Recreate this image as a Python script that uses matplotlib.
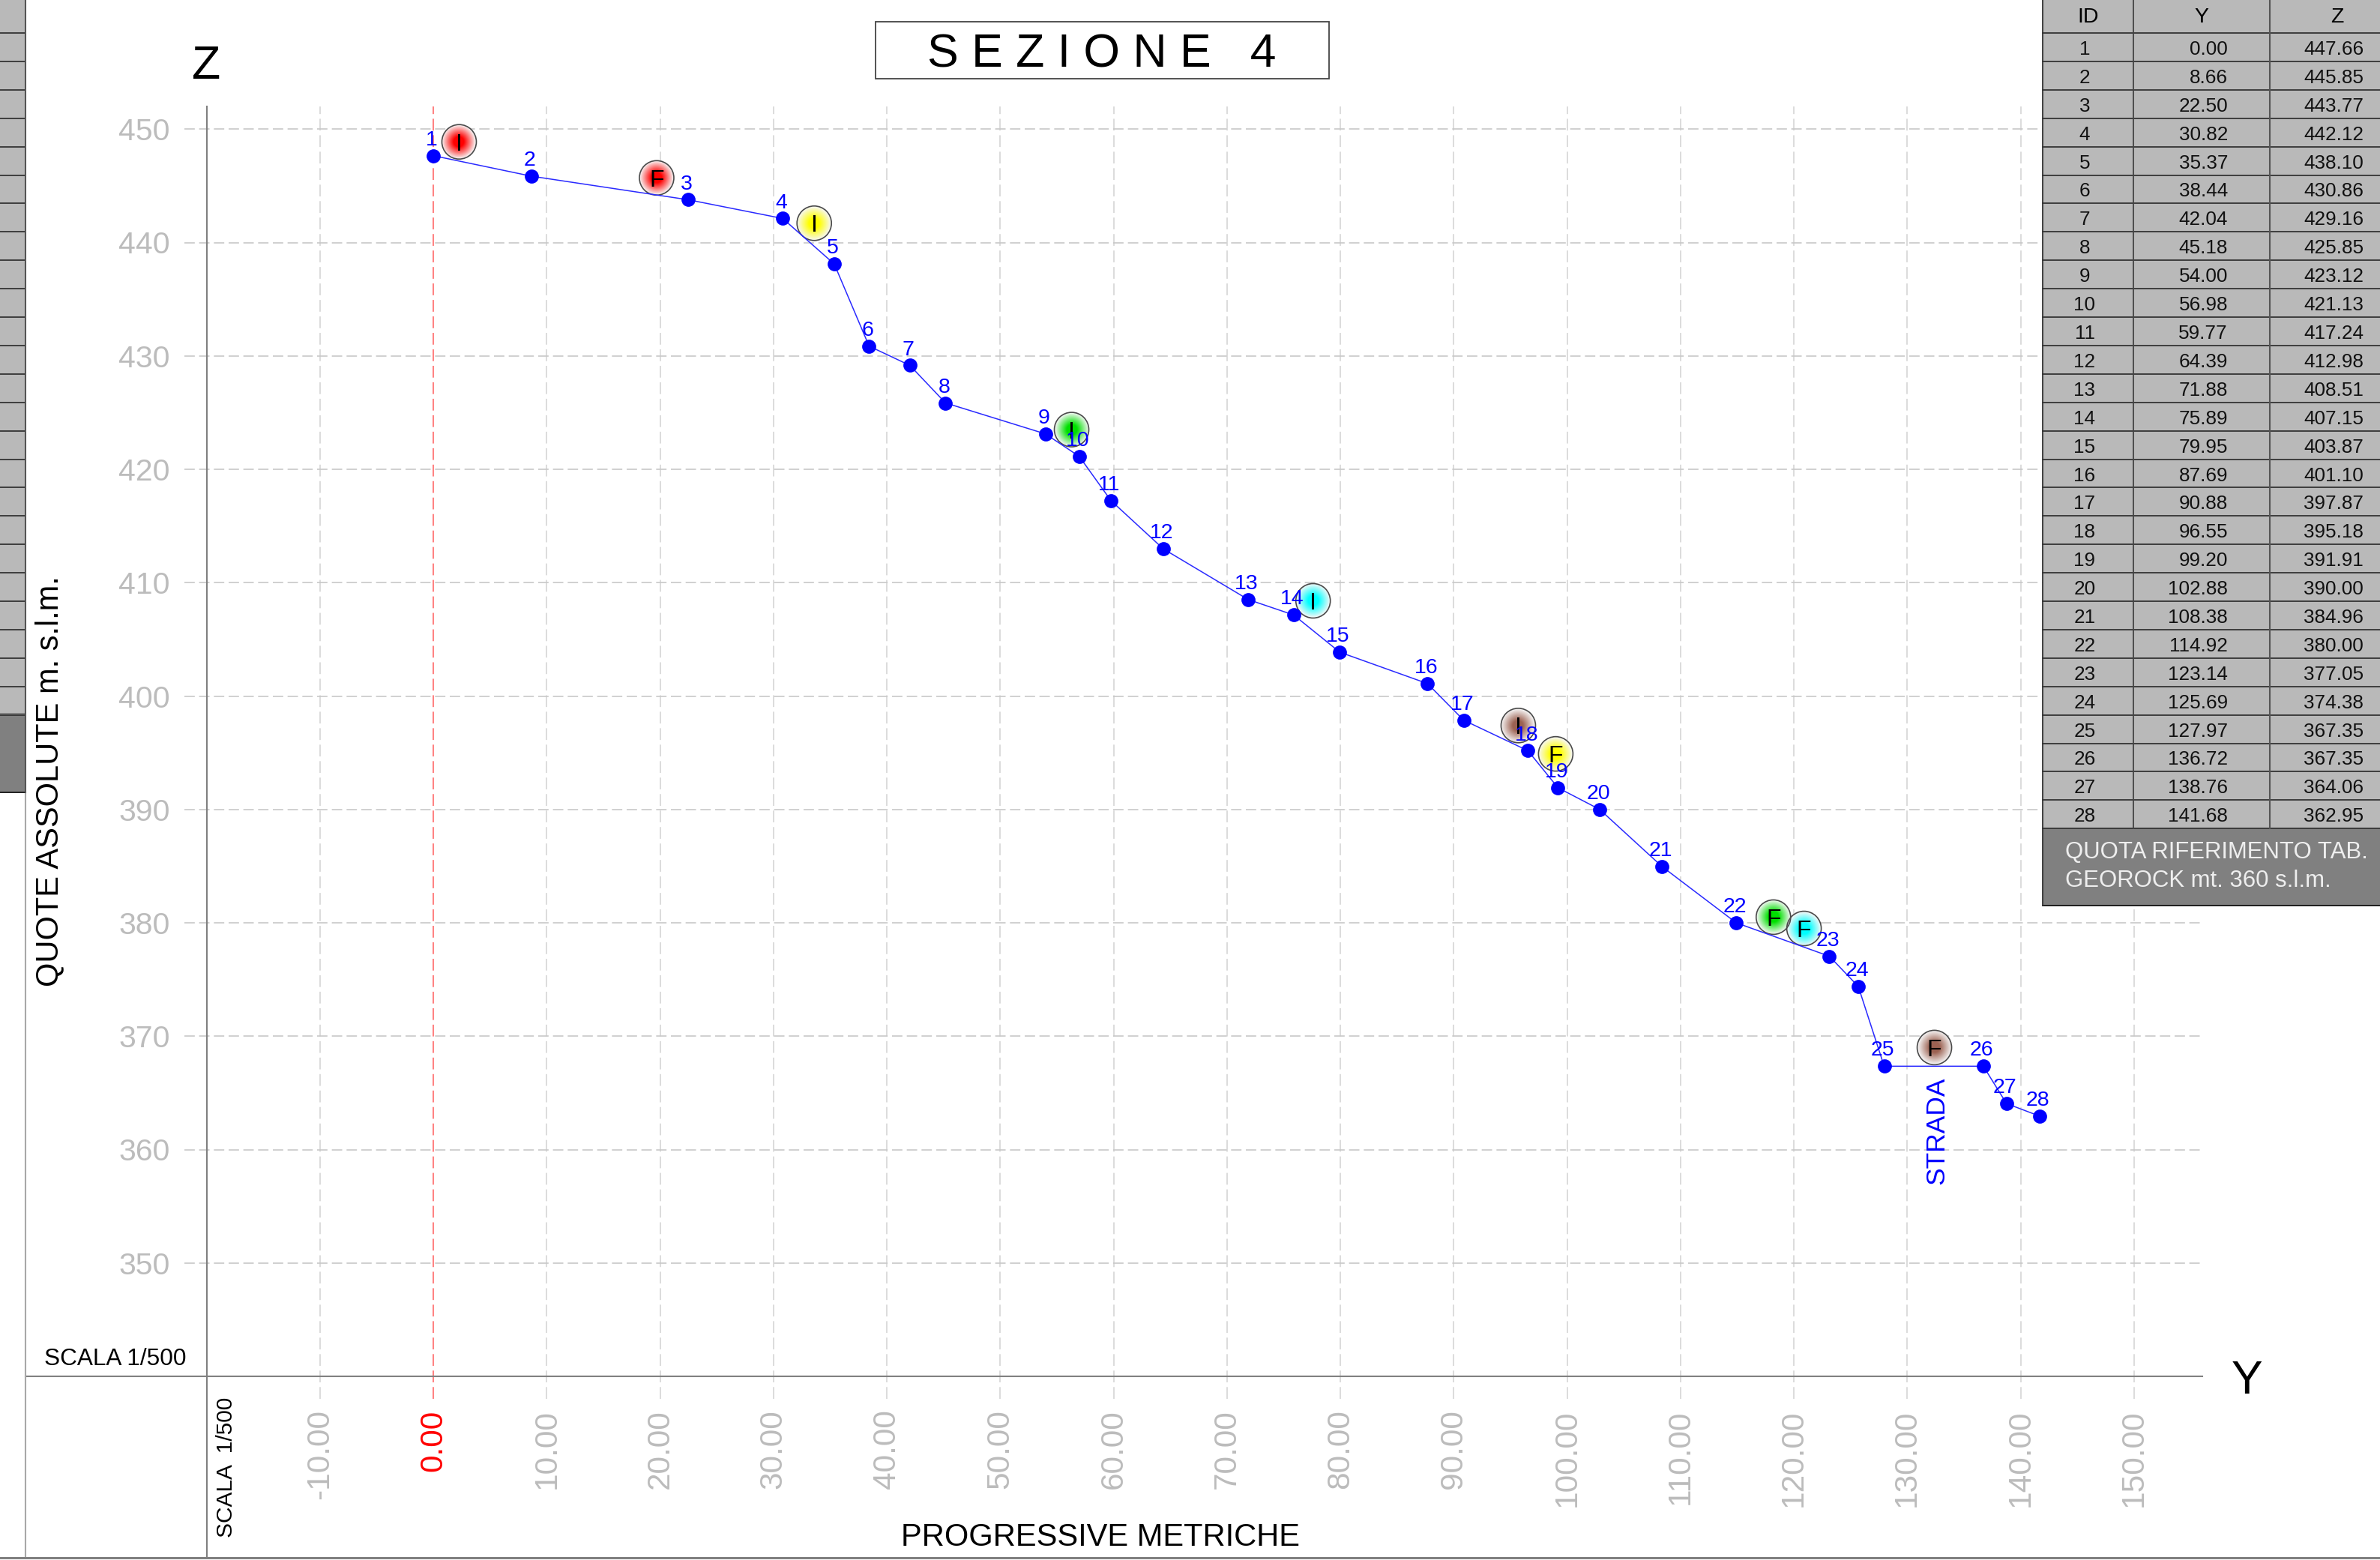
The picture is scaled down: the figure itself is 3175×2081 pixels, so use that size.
import numpy as np
import matplotlib
matplotlib.use('Agg')
import matplotlib.pyplot as plt
from matplotlib.patches import Circle, Rectangle
from matplotlib.colors import to_rgb

plt.rcParams['font.family'] = ['Liberation Sans', 'DejaVu Sans']

# survey points
ids = list(range(1, 29))
y_vals = [0.00, 8.66, 22.50, 30.82, 35.37, 38.44, 42.04, 45.18, 54.00, 56.98,
          59.77, 64.39, 71.88, 75.89, 79.95, 87.69, 90.88, 96.55, 99.20, 102.88,
          108.38, 114.92, 123.14, 125.69, 127.97, 136.72, 138.76, 141.68]
z_vals = [447.66, 445.85, 443.77, 442.12, 438.10, 430.86, 429.16, 425.85, 423.12, 421.13,
          417.24, 412.98, 408.51, 407.15, 403.87, 401.10, 397.87, 395.18, 391.91, 390.00,
          384.96, 380.00, 377.05, 374.38, 367.35, 367.35, 364.06, 362.95]

# I / F geophone markers
mark_y = [2.28, 19.7, 33.6, 56.3, 77.6, 95.7, 99.0, 118.2, 120.9, 132.4]
mark_z = [448.88, 445.7, 441.7, 423.5, 408.4, 397.4, 394.9, 380.5, 379.5, 369.0]
mark_txt = ['I', 'F', 'I', 'I', 'I', 'I', 'F', 'F', 'F', 'F']
mark_col = ['#ff0000', '#ff0000', '#ffff00', '#00e000', '#00ffff', '#9c6252',
            '#ffff00', '#00e000', '#00ffff', '#9c6252']

x_ticks = list(range(-10, 151, 10))
z_ticks = list(range(350, 451, 10))

W, H = 3175, 2081
SCALE = 15.125  # px per metre
X0, X1, Z0, Z1 = -20, 156, 340, 452
LEFT = 275.5
BOTTOM = 1836
MARK_R = 23 / SCALE

GRID_V = '#dcdcdc'
GRID_H = '#c8c8c8'
TXT_GREY = '#bcbcbc'
DASH = (0, (8.3, 3.5))

fig = plt.figure(figsize=(W / 100, H / 100), dpi=100, facecolor='white')
ax = fig.add_axes([LEFT / W, 1 - BOTTOM / H, (X1 - X0) * SCALE / W, (Z1 - Z0) * SCALE / H])
ax.patch.set_alpha(0)

# grid, runs a bit past the axes on the left and bottom
z_low = Z0 - 30 / SCALE
x_low = X0 - 30 / SCALE
for xt in x_ticks:
    col = '#ff8080' if xt == 0 else GRID_V
    ax.plot([xt, xt], [z_low, Z1], color=col, lw=1.4, ls=(0, (8.1, 3.2)), clip_on=False, zorder=1)
for zt in z_ticks:
    ax.plot([x_low, X1], [zt, zt], color=GRID_H, lw=1.2, ls=DASH, clip_on=False, zorder=1)

# radial gradient discs
gx, gy = np.meshgrid(np.linspace(-1, 1, 101), np.linspace(-1, 1, 101))
rr = np.clip((np.hypot(gx, gy) - 0.3) / 0.7, 0, 1)[..., None]
for my, mz, txt, col in zip(mark_y, mark_z, mark_txt, mark_col):
    img = np.array(to_rgb(col)) * (1 - rr) + 0.97 * rr
    im = ax.imshow(img, extent=[my - MARK_R, my + MARK_R, mz - MARK_R, mz + MARK_R],
                   aspect='auto', interpolation='bilinear', zorder=2)
    clip = Circle((my, mz), MARK_R, transform=ax.transData)
    im.set_clip_path(clip)
    ax.add_patch(Circle((my, mz), MARK_R, fill=False, ec='#4a4a4a', lw=1.2, zorder=3))
    ax.text(my, mz, txt, ha='center', va='center_baseline', fontsize=23, color='black', zorder=4)

ax.plot(y_vals, z_vals, color='#2a2aff', lw=1.1, zorder=5)
ax.plot(y_vals, z_vals, ls='none', marker='o', ms=13.5, mfc='#0000ff', mec='none', zorder=6)
for i, yv, zv in zip(ids, y_vals, z_vals):
    ax.annotate(str(i), (yv, zv), xytext=(-1.5, 10), textcoords='offset points',
                ha='center', va='baseline', fontsize=20.5, color='#0000ff', zorder=7)
ax.text(132.6, 361.7, 'STRADA', rotation=90, ha='center', va='center', fontsize=25.5, color='#0000ff', zorder=7)

ax.set_xlim(X0, X1)
ax.set_ylim(Z0, Z1)
ax.set_xticks(x_ticks)
ax.set_xticklabels([f'{v:.2f}' for v in x_ticks], rotation=90, fontsize=30.5, color=TXT_GREY, va='top')
ax.set_yticks(z_ticks)
ax.set_yticklabels([str(v) for v in z_ticks], fontsize=29.5, color=TXT_GREY, va='center_baseline')
ax.get_xticklabels()[x_ticks.index(0)].set_color('#ff0000')
ax.tick_params(axis='x', length=0, pad=32)
ax.tick_params(axis='y', length=0, pad=35)
ax.spines['top'].set_visible(False)
ax.spines['right'].set_visible(False)
for s in ['left', 'bottom']:
    ax.spines[s].set_color('#808080')
    ax.spines[s].set_linewidth(1.5)

# everything else is placed in picture pixels
ov = fig.add_axes([0, 0, 1, 1], zorder=5)
ov.set_xlim(0, W)
ov.set_ylim(H, 0)
ov.axis('off')
ov.patch.set_alpha(0)

ov.plot([34, LEFT], [BOTTOM, BOTTOM], color='#808080', lw=1.5)
ov.plot([LEFT, LEFT], [BOTTOM, 2078], color='#808080', lw=1.5)
ov.plot([34, 34], [1057, 2078], color='#a8a8a8', lw=1.5)
ov.plot([0, W], [2078, 2078], color='#808080', lw=2.2)

# title box
ov.add_patch(Rectangle((1168, 29), 605, 76, fc='white', ec='#444444', lw=1.3))
ov.text(1470, 90, 'S E Z I O N E   4', ha='center', va='baseline', fontsize=45, color='black')

ov.text(275, 105, 'Z', ha='center', va='baseline', fontsize=45, color='black')
ov.text(2997, 1859, 'Y', ha='center', va='baseline', fontsize=45, color='black')
ov.text(66, 1042, 'QUOTE ASSOLUTE m. s.l.m.', rotation=90, ha='center', va='center', fontsize=30, color='black')
ov.text(1468, 2051, 'PROGRESSIVE METRICHE', ha='center', va='center', fontsize=30, color='black')
ov.text(59, 1821, 'SCALA 1/500', ha='left', va='baseline', fontsize=22.7, color='black')
ov.text(302, 1957, 'SCALA  1/500', rotation=90, ha='center', va='center', fontsize=21.5, color='black')

# table on the right
ROW = 37.9
HEAD = 44
T_L, T_C1, T_C2 = 2725, 2846, 3028
T_END = HEAD + ROW * len(ids)
LINE = '#333333'
ov.add_patch(Rectangle((T_L, 0), W - T_L, T_END, fc='#b9b9b9', ec='none'))
ov.add_patch(Rectangle((T_L, T_END), W - T_L, 1208 - T_END, fc='#808080', ec='none'))
for k in range(len(ids) + 1):
    ov.plot([T_L, W], [HEAD + ROW * k] * 2, color=LINE, lw=1.3)
ov.plot([T_L, W], [1208, 1208], color='#111111', lw=1.3)
ov.plot([T_L, T_L], [0, 1208], color='#333333', lw=1.3)
ov.plot([T_C1, T_C1], [0, T_END], color='#444444', lw=1.3)
ov.plot([T_C2, T_C2], [0, T_END], color='#555555', lw=1.5)
ov.text(2786, 23, 'ID', ha='center', va='center', fontsize=20.5, color='black')
ov.text(2937, 23, 'Y', ha='center', va='center', fontsize=20.5, color='black')
ov.text(3118, 23, 'Z', ha='center', va='center', fontsize=20.5, color='black')
for k, (i, yv, zv) in enumerate(zip(ids, y_vals, z_vals)):
    base = HEAD + ROW * k + 29
    ov.text(2781, base, str(i), ha='center', va='baseline', fontsize=18.8, color='#111111')
    ov.text(2972, base, f'{yv:.2f}', ha='right', va='baseline', fontsize=18.8, color='#111111')
    ov.text(3153, base, f'{zv:.2f}', ha='right', va='baseline', fontsize=18.8, color='#111111')
ov.text(2755, 1145, 'QUOTA RIFERIMENTO TAB.', ha='left', va='baseline', fontsize=22.4, color='#eeeeee')
ov.text(2755, 1183, 'GEOROCK mt. 360 s.l.m.', ha='left', va='baseline', fontsize=22.4, color='#eeeeee')

# edge of the neighbouring table, cut by the page
ov.add_patch(Rectangle((0, 0), 34, 951, fc='#b9b9b9', ec='none'))
ov.add_patch(Rectangle((0, 951), 34, 106, fc='#808080', ec='none'))
for k in range(25):
    ov.plot([0, 34], [HEAD + ROW * k] * 2, color=LINE, lw=1.3)
ov.plot([0, 34], [1057, 1057], color='#111111', lw=1.3)
ov.plot([34, 34], [0, 1057], color='#555555', lw=1.5)

fig.savefig('out.png', dpi=100)
